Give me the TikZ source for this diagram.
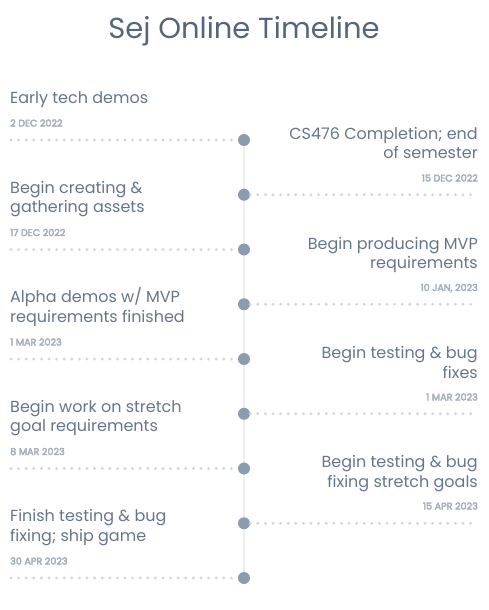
\documentclass[tikz,border=0pt]{standalone}
\usepackage{fontspec}
\setmainfont{Poppins}
\newfontfamily\datefont{Poppins}[FakeBold=4]
\definecolor{titlec}{HTML}{56667A}
\definecolor{bodyc}{HTML}{66768A}
\definecolor{datec}{HTML}{A3AEBB}
\definecolor{dotc}{HTML}{8C9CB0}
\definecolor{vlinec}{HTML}{ECEEF1}
\definecolor{dottedc}{HTML}{D2D7DE}
\tikzset{
  titlestyle/.style={font=\fontsize{29}{32}\selectfont, text=titlec, inner sep=0pt, anchor=base},
  bodyl/.style={font=\fontsize{16}{19}\selectfont, text=bodyc, inner sep=0pt, anchor=base west},
  bodyr/.style={font=\fontsize{16}{19}\selectfont, text=bodyc, inner sep=0pt, anchor=base east},
  datel/.style={font=\datefont\fontsize{9.6}{11}\selectfont, text=datec, inner sep=0pt, anchor=base west},
  dater/.style={font=\datefont\fontsize{9.6}{11}\selectfont, text=datec, inner sep=0pt, anchor=base east},
  tldot/.style={circle, fill=dotc, minimum size=12pt, inner sep=0pt},
  dotline/.style={draw=dottedc, line width=3.2pt, line cap=round, dash pattern=on 0pt off 7.6pt},
  vline/.style={draw=vlinec, line width=1.5pt},
}
\begin{document}
\begin{tikzpicture}[x=1pt,y=-1pt]
\useasboundingbox (0,0) rectangle (489,610);
\node[titlestyle] (title) at (244,38) {Sej Online Timeline};
% timeline spine
\coordinate (top) at (244,140);
\coordinate (bot) at (244,578);
\draw[vline] (top) -- (bot);
% dots
\foreach \i/\y in {1/140,2/194.75,3/249.5,4/304.25,5/359,6/413.75,7/468.5,8/523.25,9/578}{
  \node[tldot] (d\i) at (244,\y) {};
}
% left dotted leaders
\foreach \i/\y in {1/140,3/249.5,5/359,7/468.5,9/578}{
  \coordinate (l\i) at (11,\y);
  \draw[dotline] (l\i) -- (d\i.west);
}
% right dotted leaders
\foreach \i/\y in {2/194.75,4/304.25,6/413.75,8/523.25}{
  \coordinate (r\i) at (477,\y);
  \draw[dotline] (d\i.east) -- (r\i);
}
% left items
\node[bodyl] (t1a) at (10,103) {Early tech demos};
\node[datel] (dt1) at (10,126.5) {2 DEC 2022};

\node[bodyl] (t3a) at (10,193) {Begin creating \&};
\node[bodyl] (t3b) at (10,212.5) {gathering assets};
\node[datel] (dt3) at (10,236) {17 DEC 2022};

\node[bodyl] (t5a) at (10,302.5) {Alpha demos w/ MVP};
\node[bodyl] (t5b) at (10,322) {requirements finished};
\node[datel] (dt5) at (10,345.5) {1 MAR 2023};

\node[bodyl] (t7a) at (10,412) {Begin work on stretch};
\node[bodyl] (t7b) at (10,431.5) {goal requirements};
\node[datel] (dt7) at (10,455) {8 MAR 2023};

\node[bodyl] (t9a) at (10,521.5) {Finish testing \& bug};
\node[bodyl] (t9b) at (10,541) {fixing; ship game};
\node[datel] (dt9) at (10,564.5) {30 APR 2023};
% right items
\node[bodyr] (t2a) at (478,139.3) {CS476 Completion; end};
\node[bodyr] (t2b) at (478,158.8) {of semester};
\node[dater] (dt2) at (478,181.5) {15 DEC 2022};

\node[bodyr] (t4a) at (478,249) {Begin producing MVP};
\node[bodyr] (t4b) at (478,268.5) {requirements};
\node[dater] (dt4) at (478,291) {10 JAN, 2023};

\node[bodyr] (t6a) at (478,358.5) {Begin testing \& bug};
\node[bodyr] (t6b) at (478,378) {fixes};
\node[dater] (dt6) at (478,400.5) {1 MAR 2023};

\node[bodyr] (t8a) at (478,467.5) {Begin testing \& bug};
\node[bodyr] (t8b) at (478,487) {fixing stretch goals};
\node[dater] (dt8) at (478,509.5) {15 APR 2023};
\end{tikzpicture}
\end{document}
